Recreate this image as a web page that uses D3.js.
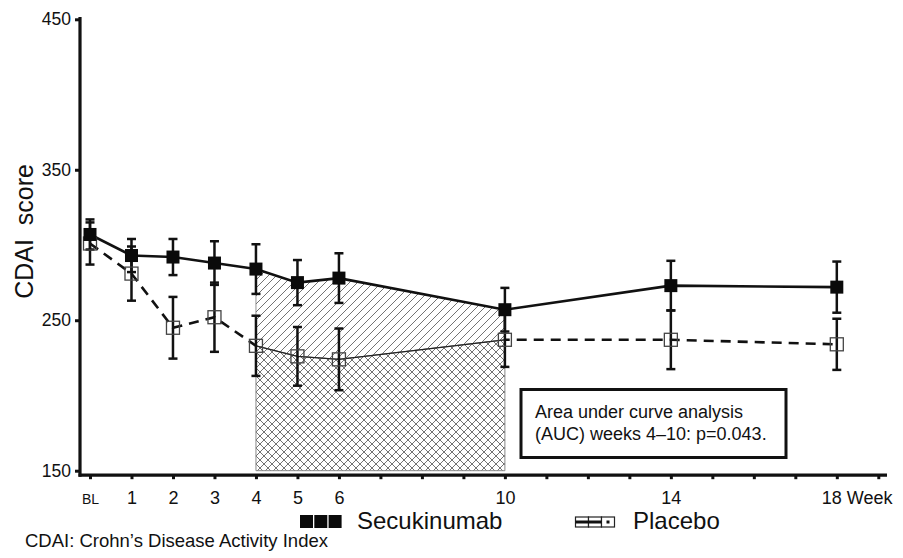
<!DOCTYPE html>
<html>
<head>
<meta charset="utf-8">
<script src="https://cdn.jsdelivr.net/npm/d3@7"></script>
<style>
  body { margin: 0; background: #fff; }
  text { font-family: 'Liberation Sans', Arial, Helvetica, sans-serif; fill: #111; }
  .xaxis text { font-size: 18px; }
  .xaxis .bl { font-size: 14px; }
</style>
</head>
<body>
<div id="chart"></div>
<script>
// week numbers and their tick labels
const weeks = [0, 1, 2, 3, 4, 5, 6, 10, 14, 18]
const weekLabels = ['BL', '1', '2', '3', '4', '5', '6', '10', '14', '18 Week']

// CDAI mean and error per week
const secuMean = [307, 293, 292, 288, 284, 275, 278, 257, 273, 272]
const secuErr = [10, 11, 12, 14.5, 16.5, 15, 16.5, 14.5, 16.5, 17]
const placMean = [301, 281, 245, 252, 233, 226, 224, 237, 237, 234]
const placErr = [14, 18, 20.5, 23, 20, 19.5, 20.5, 18, 19.5, 17]

const aucRange = [4, 10]
const yTicks = [150, 250, 350, 450]
const legendNames = ['Secukinumab', 'Placebo']
const boxLines = ['Area under curve analysis', '(AUC) weeks 4–10: p=0.043.']
const yTitle = 'CDAI  score'
const footnote = 'CDAI: Crohn’s Disease Activity Index'

const W = 903
const H = 558

const x = d3.scaleLinear().domain([0, 19]).range([90, 878.3])
const y = d3.scaleLinear().domain([150, 450]).range([470.7, 19.3])
const axisX = 80
const axisY = y(150) + 4.5

const svg = d3.select('#chart').append('svg')
  .attr('width', W)
  .attr('height', H)

const toRows = (means, errs) => weeks.map((w, i) => ({ week: w, mean: means[i], err: errs[i] }))
const secu = toRows(secuMean, secuErr)
const plac = toRows(placMean, placErr)

// hatch patterns
const defs = svg.append('defs')
const addPattern = (id, d) => {
  const p = defs.append('pattern')
    .attr('id', id)
    .attr('patternUnits', 'userSpaceOnUse')
    .attr('width', 8)
    .attr('height', 8)
  p.append('rect').attr('width', 8).attr('height', 8).attr('fill', '#fff')
  p.append('path').attr('d', d).attr('stroke', '#444').attr('stroke-width', 0.75)
}
addPattern('diag', 'M-2,2 l4,-4 M0,8 l8,-8 M6,10 l4,-4')
addPattern('cross', 'M-2,2 l4,-4 M0,8 l8,-8 M6,10 l4,-4 M-2,6 l4,4 M0,0 l8,8 M6,-2 l4,4')

// placebo dashed line (under the shaded areas)
const line = d3.line().x(d => x(d.week)).y(d => y(d.mean))
svg.append('path')
  .datum(plac)
  .attr('d', line)
  .attr('fill', 'none')
  .attr('stroke', '#111')
  .attr('stroke-width', 2.6)
  .attr('stroke-dasharray', '10,7')

// AUC shaded areas, weeks 4-10
const inAuc = d => d.week >= aucRange[0] && d.week <= aucRange[1]
const aucRows = secu.filter(inAuc).map(d => ({
  week: d.week,
  secu: d.mean,
  plac: plac.find(p => p.week === d.week).mean
}))

svg.append('path')
  .datum(aucRows)
  .attr('d', d3.area().x(d => x(d.week)).y0(d => y(d.plac)).y1(d => y(d.secu)))
  .attr('fill', 'url(#diag)')
  .attr('stroke', '#777')
  .attr('stroke-width', 0.8)

svg.append('path')
  .datum(aucRows)
  .attr('d', d3.area().x(d => x(d.week)).y0(y(150)).y1(d => y(d.plac)))
  .attr('fill', 'url(#cross)')
  .attr('stroke', '#888')
  .attr('stroke-width', 1)

svg.append('path')
  .datum(aucRows)
  .attr('d', d3.line().x(d => x(d.week)).y(d => y(d.plac)))
  .attr('fill', 'none')
  .attr('stroke', '#222')
  .attr('stroke-width', 1.3)

// secukinumab solid line
svg.append('path')
  .datum(secu)
  .attr('d', line)
  .attr('fill', 'none')
  .attr('stroke', '#111')
  .attr('stroke-width', 2.6)

// error bars
const addErrorBars = (rows) => {
  const g = svg.append('g')
    .selectAll('g')
    .data(rows)
    .enter().append('g')
    .attr('stroke', '#111')
    .attr('stroke-width', 2.5)
  g.append('line')
    .attr('x1', d => x(d.week))
    .attr('x2', d => x(d.week))
    .attr('y1', d => y(d.mean - d.err))
    .attr('y2', d => y(d.mean + d.err))
  g.append('line')
    .attr('x1', d => x(d.week) - 4.5)
    .attr('x2', d => x(d.week) + 4.5)
    .attr('y1', d => y(d.mean + d.err))
    .attr('y2', d => y(d.mean + d.err))
  g.append('line')
    .attr('x1', d => x(d.week) - 4.5)
    .attr('x2', d => x(d.week) + 4.5)
    .attr('y1', d => y(d.mean - d.err))
    .attr('y2', d => y(d.mean - d.err))
}
addErrorBars(plac)
addErrorBars(secu)

// markers
const size = 13
svg.append('g')
  .selectAll('rect')
  .data(plac)
  .enter().append('rect')
  .attr('x', d => x(d.week) - size / 2)
  .attr('y', d => y(d.mean) - size / 2)
  .attr('width', size)
  .attr('height', size)
  .attr('fill', 'none')
  .attr('stroke', '#444')
  .attr('stroke-width', 1.3)

svg.append('g')
  .selectAll('rect')
  .data(secu)
  .enter().append('rect')
  .attr('x', d => x(d.week) - size / 2)
  .attr('y', d => y(d.mean) - size / 2)
  .attr('width', size)
  .attr('height', size)
  .attr('fill', '#0a0a0a')

// axes
const labelOf = new Map(weeks.map((w, i) => [w, weekLabels[i]]))
const xAxis = svg.append('g')
  .attr('class', 'xaxis')
  .attr('transform', `translate(0,${axisY})`)
  .call(d3.axisBottom(x)
    .tickValues(d3.range(0, 20))
    .tickSize(4)
    .tickSizeOuter(0)
    .tickFormat(w => labelOf.get(w) || ''))
xAxis.attr('font-size', null).attr('font-family', null)
xAxis.select('.domain').remove()
xAxis.selectAll('.tick line').attr('stroke', '#111').attr('stroke-width', 3)
xAxis.selectAll('.tick text')
  .attr('y', 29)
  .attr('dy', 0)
  .classed('bl', w => w === 0)
xAxis.selectAll('.tick text')
  .filter(w => w === 18)
  .attr('text-anchor', 'start')
  .attr('x', -15.5)
xAxis.append('line')
  .attr('x1', axisX - 1.5)
  .attr('x2', 887)
  .attr('stroke', '#111')
  .attr('stroke-width', 3.2)

const yAxis = svg.append('g')
  .attr('transform', `translate(${axisX},0)`)
  .call(d3.axisLeft(y)
    .tickValues(yTicks)
    .tickSize(5)
    .tickSizeOuter(0))
yAxis.select('.domain').remove()
yAxis.selectAll('.tick line').attr('stroke', '#111').attr('stroke-width', 3)
yAxis.selectAll('.tick text')
  .attr('x', -9)
  .style('font-size', '17.5px')
  .style('fill', '#111')
yAxis.append('line')
  .attr('y1', 17)
  .attr('y2', axisY + 1.5)
  .attr('stroke', '#111')
  .attr('stroke-width', 3.2)

svg.append('text')
  .attr('transform', `translate(33,${y(309)}) rotate(-90)`)
  .attr('text-anchor', 'middle')
  .style('font-size', '25px')
  .style('white-space', 'pre')
  .text(yTitle)

// AUC note box
svg.append('rect')
  .attr('x', 521)
  .attr('y', 389.5)
  .attr('width', 265)
  .attr('height', 68)
  .attr('fill', '#fff')
  .attr('stroke', '#111')
  .attr('stroke-width', 3)
svg.append('g')
  .selectAll('text')
  .data(boxLines)
  .enter().append('text')
  .attr('x', 535)
  .attr('y', (_, i) => 418 + i * 22)
  .style('font-size', '18px')
  .text(d => d)

// legend
const legend = svg.append('g')
legend.selectAll('rect.secu')
  .data([0, 1, 2])
  .enter().append('rect')
  .attr('x', i => 300 + i * 14.3)
  .attr('y', 515)
  .attr('width', 13)
  .attr('height', 13)
  .attr('fill', '#0a0a0a')
legend.append('text')
  .attr('x', 357)
  .attr('y', 528.5)
  .style('font-size', '24px')
  .text(legendNames[0])

legend.selectAll('rect.plac')
  .data([0, 1, 2])
  .enter().append('rect')
  .attr('x', i => 575.5 + i * 13)
  .attr('y', 517)
  .attr('width', 13)
  .attr('height', 10)
  .attr('fill', '#fff')
  .attr('stroke', '#222')
  .attr('stroke-width', 1.2)
legend.append('line')
  .attr('x1', 575.5)
  .attr('x2', 601.5)
  .attr('y1', 522)
  .attr('y2', 522)
  .attr('stroke', '#111')
  .attr('stroke-width', 3)
legend.append('rect')
  .attr('x', 606.5)
  .attr('y', 520.5)
  .attr('width', 3)
  .attr('height', 3)
  .attr('fill', '#111')
legend.append('text')
  .attr('x', 633)
  .attr('y', 528.5)
  .style('font-size', '24px')
  .text(legendNames[1])

svg.append('text')
  .attr('x', 25)
  .attr('y', 546.5)
  .style('font-size', '18.5px')
  .text(footnote)
</script>
</body>
</html>
